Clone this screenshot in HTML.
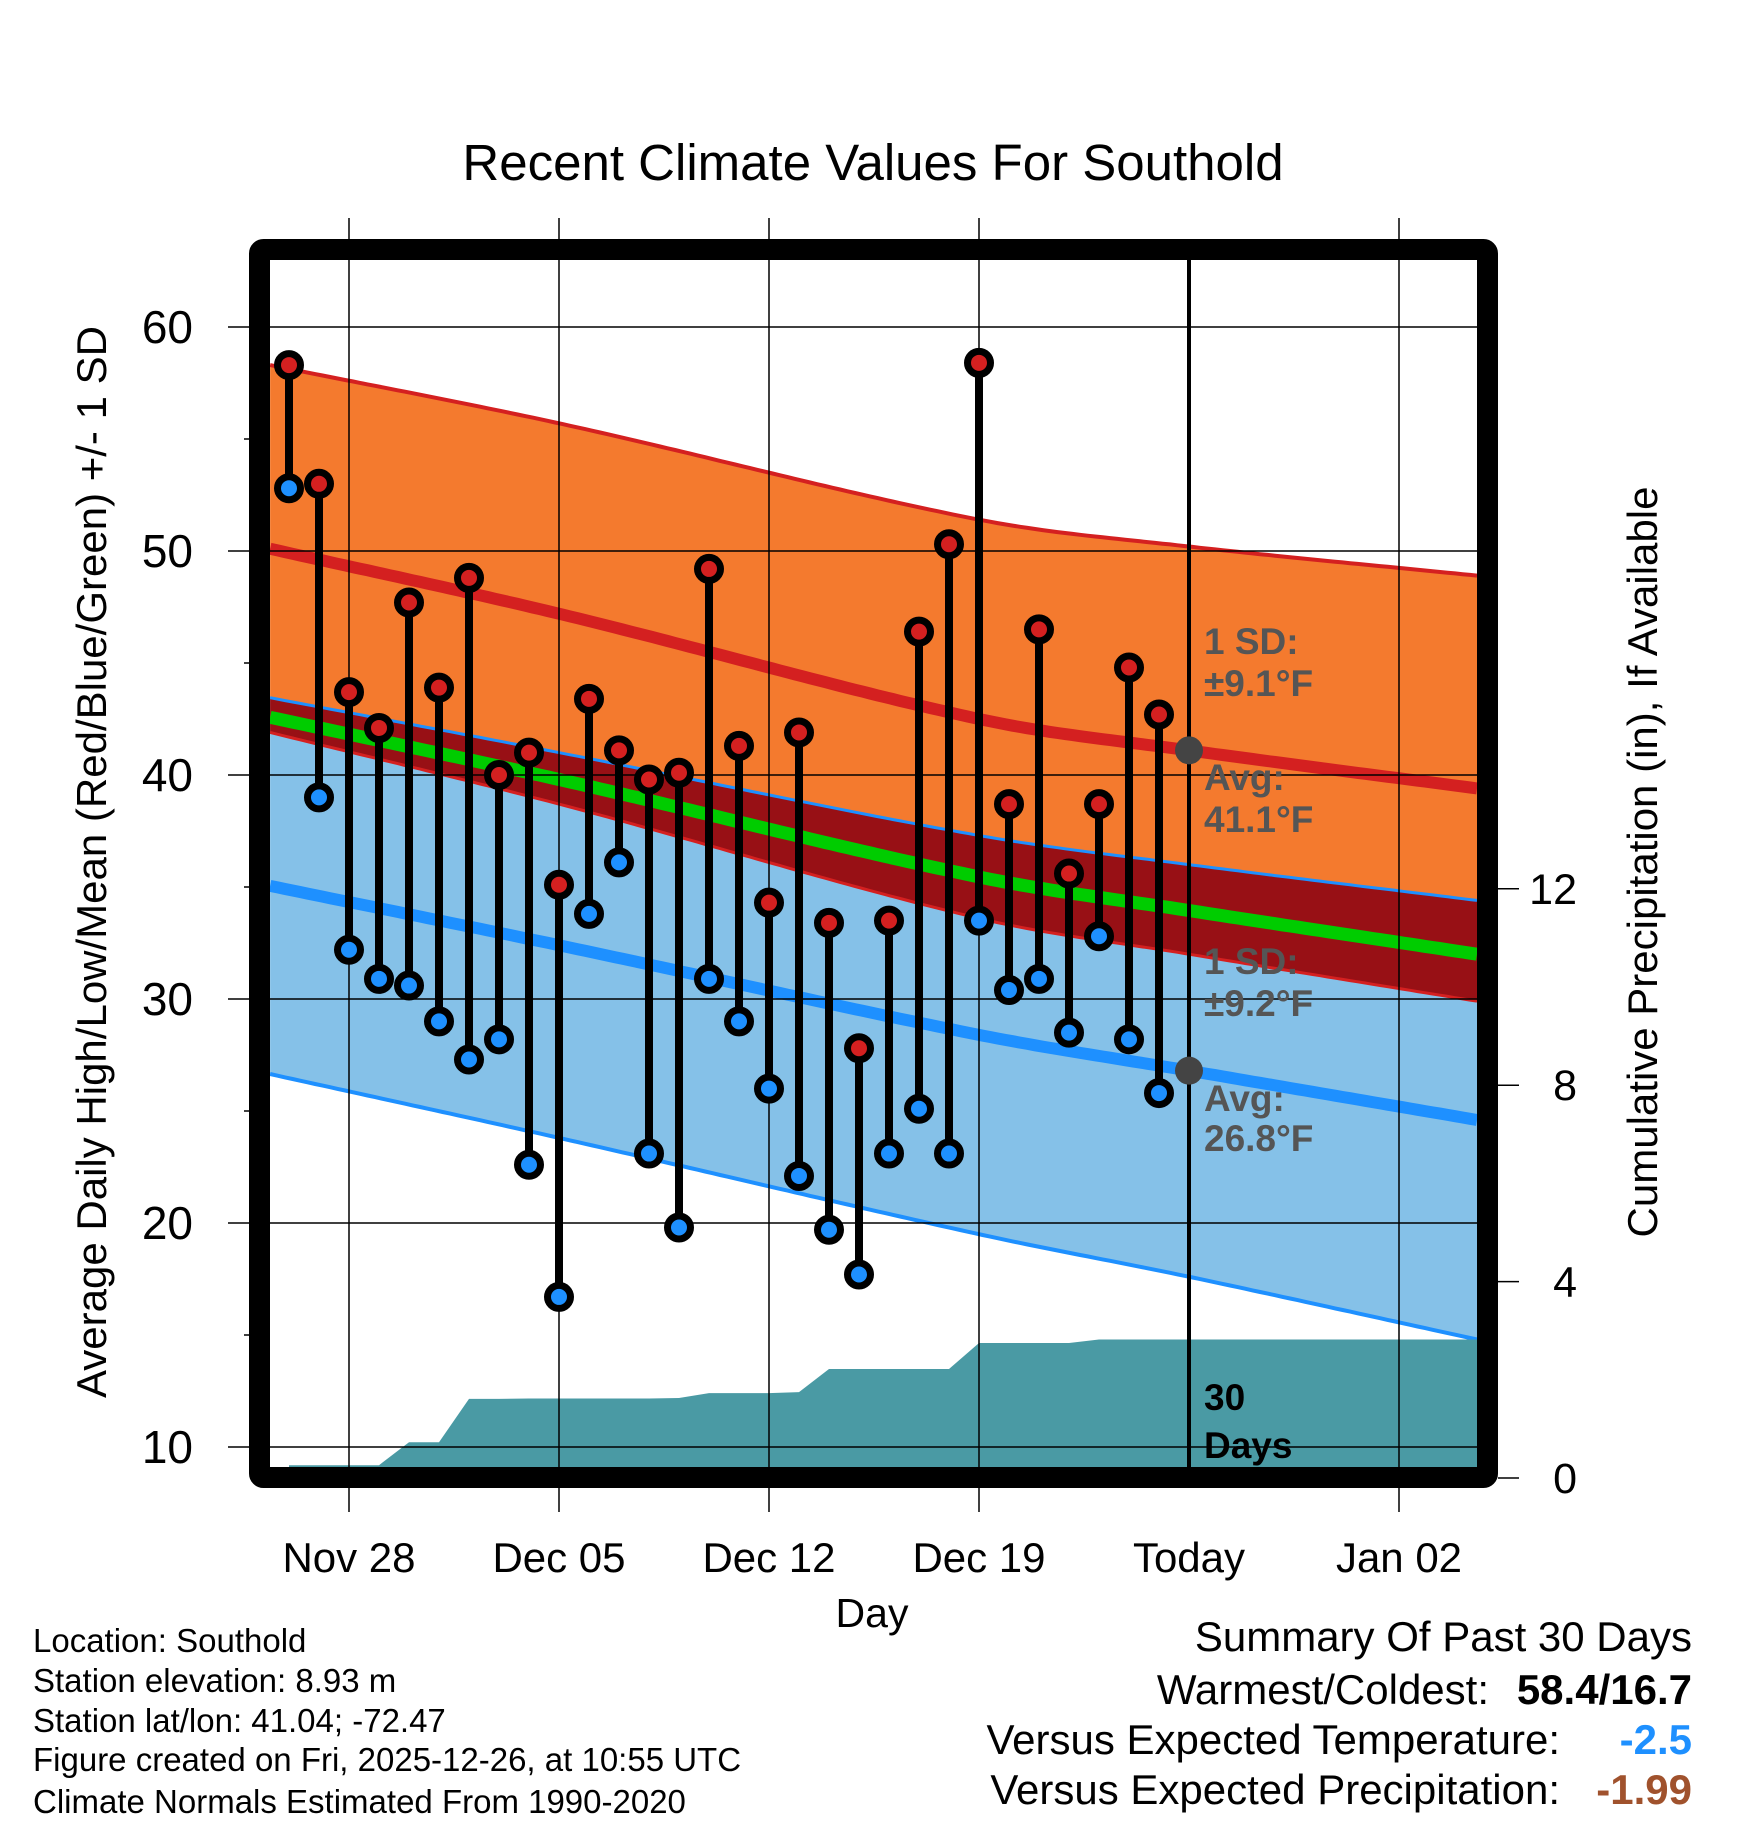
<!DOCTYPE html>
<html><head><meta charset="utf-8"><style>
html,body{margin:0;padding:0;background:#fff}
svg{display:block;font-family:"Liberation Sans",Arial,sans-serif}
</style></head><body>
<svg id="chart" width="1748" height="1828" viewBox="0 0 1748 1828" xmlns="http://www.w3.org/2000/svg">
<text x="873" y="180" font-size="51" text-anchor="middle">Recent Climate Values For Southold</text>
<g id="plot"></g>
<text transform="translate(106,862) rotate(-90)" font-size="42" text-anchor="middle">Average Daily High/Low/Mean (Red/Blue/Green) +/- 1 SD</text>
<text transform="translate(1657,862) rotate(-90)" font-size="42" text-anchor="middle">Cumulative Precipitation (in), If Available</text>
<text x="872" y="1627" font-size="41" text-anchor="middle">Day</text>
<g font-size="33">
<text x="33" y="1652">Location: Southold</text>
<text x="33" y="1692">Station elevation: 8.93 m</text>
<text x="33" y="1732">Station lat/lon: 41.04; -72.47</text>
<text x="33" y="1771">Figure created on Fri, 2025-12-26, at 10:55 UTC</text>
<text x="33" y="1813">Climate Normals Estimated From 1990-2020</text>
</g>
<g font-size="42">
<text x="1692" y="1651" text-anchor="end">Summary Of Past 30 Days</text>
<text x="1489" y="1704" text-anchor="end">Warmest/Coldest:</text>
<text x="1692" y="1704" text-anchor="end" font-weight="bold">58.4/16.7</text>
<text x="1560" y="1754" text-anchor="end">Versus Expected Temperature:</text>
<text x="1692" y="1754" text-anchor="end" font-weight="bold" fill="#1E90FF">-2.5</text>
<text x="1560" y="1804" text-anchor="end">Versus Expected Precipitation:</text>
<text x="1692" y="1804" text-anchor="end" font-weight="bold" fill="#A0522D">-1.99</text>
</g>
</svg>
<script>
// days offset relative to Nov 28
const highs=[58.3,53.0,43.7,42.1,47.7,43.9,48.8,40.0,41.0,35.1,43.4,41.1,39.8,40.1,49.2,41.3,34.3,41.9,33.4,27.8,33.5,46.4,50.3,58.4,38.7,46.5,35.6,38.7,44.8,42.7];
const lows=[52.8,39.0,32.2,30.9,30.6,29.0,27.3,28.2,22.6,16.7,33.8,36.1,23.1,19.8,30.9,29.0,26.0,22.1,19.7,17.7,23.1,25.1,23.1,33.5,30.4,30.9,28.5,32.8,28.2,25.8];
const precip=[0.26,0.26,0.26,0.26,0.73,0.73,1.61,1.61,1.62,1.62,1.62,1.62,1.62,1.63,1.73,1.73,1.73,1.75,2.22,2.22,2.22,2.22,2.22,2.75,2.75,2.75,2.75,2.82,2.82,2.82];
const normDays=[-2.63,7,21,28,37.6];
const highAvg=[50.1,47.2,42.5,41.1,39.4];
const highSd=[8.2,8.5,8.9,9.1,9.5];
const lowAvg=[35.05,32.4,28.4,26.8,24.6];
const lowSd=[8.4,8.6,8.9,9.2,9.8];
const xTickDays=[0,7,14,21,28,35];
const xTickLabels=["Nov 28","Dec 05","Dec 12","Dec 19","Today","Jan 02"];
const yTicks=[10,20,30,40,50,60];
const y2Ticks=[0,4,8,12];
const firstDay=-2;

const X0=270,X1=1478,Y0=260,Y1=1468;
const xs=d=>349+d*30;
const ys=v=>327+(60-v)*22.4;
const yp=p=>1478-p*49.1;
const NS='http://www.w3.org/2000/svg';
const plot=document.getElementById('plot');
function mk(tag,attrs,parent){const e=document.createElementNS(NS,tag);for(const k in attrs)e.setAttribute(k,attrs[k]);(parent||plot).appendChild(e);return e;}
function interp(arr,d){
  const n=normDays.length;
  const m=arr.map((v,i)=>{
    if(i==0)return (arr[1]-arr[0])/(normDays[1]-normDays[0]);
    if(i==n-1)return (arr[n-1]-arr[n-2])/(normDays[n-1]-normDays[n-2]);
    return (arr[i+1]-arr[i-1])/(normDays[i+1]-normDays[i-1]);
  });
  let i=0;while(i<n-2&&d>normDays[i+1])i++;
  const h=normDays[i+1]-normDays[i],t=(d-normDays[i])/h;
  const t2=t*t,t3=t2*t;
  return (2*t3-3*t2+1)*arr[i]+(t3-2*t2+t)*h*m[i]+(-2*t3+3*t2)*arr[i+1]+(t3-t2)*h*m[i+1];
}
const samp=[];for(let d=-2.63;d<37.6;d+=0.25)samp.push(d);samp.push(37.6);
const f=(fn)=>samp.map(d=>[xs(d),ys(fn(d))]);
const hU=d=>interp(highAvg,d)+interp(highSd,d), hA=d=>interp(highAvg,d), hL=d=>interp(highAvg,d)-interp(highSd,d);
const lU=d=>interp(lowAvg,d)+interp(lowSd,d), lA=d=>interp(lowAvg,d), lL=d=>interp(lowAvg,d)-interp(lowSd,d);
const mean=d=>(hA(d)+lA(d))/2;
const pts=a=>a.map(p=>p[0].toFixed(1)+','+p[1].toFixed(1)).join(' ');
function band(top,bot,fill,name){const a=f(top),b=f(bot).reverse();const e=mk('polygon',{points:pts(a.concat(b)),fill:fill});

}
function line(fn,col,w,name){const e=mk('polyline',{points:pts(f(fn)),fill:'none',stroke:col,'stroke-width':w});

}
band(hU,hL,'#F47A2E','high-sd-band');
band(lU,lL,'#85C1E8','low-sd-band');
band(lU,hL,'#981015','overlap-band');
line(hU,'#D42020',4,'high-upper-line');
line(hA,'#D42020',12,'high-avg-line');
line(hL,'#D42020',3,'high-lower-line');
line(lU,'#1E90FF',3,'low-upper-line');
line(lA,'#1E90FF',12,'low-avg-line');
line(lL,'#1E90FF',4,'low-lower-line');
line(mean,'#00CC00',13,'mean-line');
// precip
let pp=[[xs(firstDay),Y1]];
precip.forEach((p,i)=>pp.push([xs(firstDay+i),yp(p)]));
pp.push([X1,yp(precip[precip.length-1])]);pp.push([X1,Y1]);
const pe=mk('polygon',{points:pts(pp),fill:'#4A9AA4'});


// grid
yTicks.forEach(v=>{const g=mk('line',{x1:228,x2:X1,y1:ys(v),y2:ys(v),stroke:'#000','stroke-width':1.5});


const t=mk('text',{x:193,y:ys(v)+16,'font-size':46,'text-anchor':'end'});t.textContent=v;

});
for(let v=15;v<=60;v+=10){const m=mk('line',{x1:244,x2:252,y1:ys(v),y2:ys(v),stroke:'#000','stroke-width':1.5});

}
xTickDays.forEach((d,i)=>{const g=mk('line',{x1:xs(d),x2:xs(d),y1:i==4?Y0:218,y2:i==4?Y1:1512,stroke:'#000','stroke-width':i==4?4:1.5});


const t=mk('text',{x:xs(d),y:1572,'font-size':42,'text-anchor':'middle'});t.textContent=xTickLabels[i];

});
y2Ticks.forEach(p=>{const m=mk('line',{x1:1498,x2:1519,y1:yp(p),y2:yp(p),stroke:'#000','stroke-width':1.5});


const t=mk('text',{x:1577,y:yp(p)+15,'font-size':43,'text-anchor':'end'});t.textContent=p;

});
// today markers
[hA(28),lA(28)].forEach(v=>{const c=mk('circle',{cx:xs(28),cy:ys(v),r:14,fill:'#444'});

});
const lbl=[["1 SD:",641,'#555'],["±9.1°F",683,'#555'],["Avg:",777,'#555'],["41.1°F",819,'#555'],["1 SD:",961,'#555'],["±9.2°F",1003,'#555'],["Avg:",1098,'#555'],["26.8°F",1138,'#555'],["30",1397,'#000'],["Days",1445,'#000']];
lbl.forEach(l=>{const t=mk('text',{x:1204,y:l[1]+13,'font-size':37,'font-weight':'bold',fill:l[2]});t.textContent=l[0];

});
// daily points
highs.forEach((h,i)=>{const x=xs(firstDay+i);
const s=mk('line',{x1:x,x2:x,y1:ys(h),y2:ys(lows[i]),stroke:'#000','stroke-width':8});


const a=mk('circle',{cx:x,cy:ys(h),r:11.5,fill:'#D42020',stroke:'#000','stroke-width':7});


const b=mk('circle',{cx:x,cy:ys(lows[i]),r:11.5,fill:'#1E90FF',stroke:'#000','stroke-width':7});

});
const fr=mk('rect',{x:259.5,y:249.5,width:1228,height:1228,fill:'none',stroke:'#000','stroke-width':21,rx:4});


</script>
</body></html>
